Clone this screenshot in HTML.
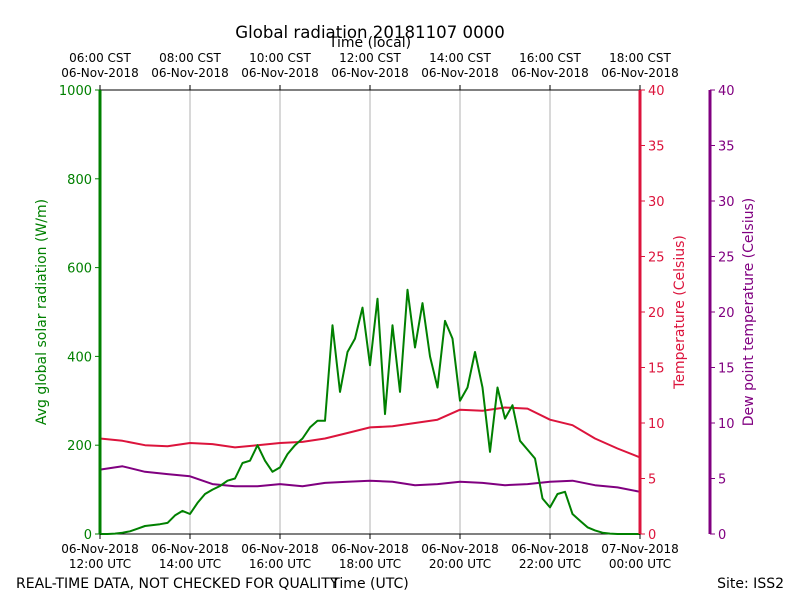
<!DOCTYPE html>
<html><head><meta charset="utf-8"><style>
body{margin:0;background:#fff;}
svg{font-family:"DejaVu Sans","Liberation Sans",sans-serif;}
</style></head><body>
<svg id="c" width="800" height="600"></svg>
<script>
const radiation=[0,0,1,3,6,12,18,20,22,25,42,52,45,70,90,100,108,120,125,160,165,200,165,140,150,180,200,215,240,255,255,470,320,410,440,510,380,530,270,470,320,550,420,520,400,330,480,440,300,330,410,330,185,330,260,290,210,190,170,80,60,90,95,45,30,15,8,3,1,0,0,0,0];
const temperature=[8.6,8.4,8.0,7.9,8.2,8.1,7.8,8.0,8.2,8.3,8.6,9.1,9.6,9.7,10.0,10.3,11.2,11.1,11.4,11.3,10.3,9.8,8.6,7.7,6.9];
const dewpoint=[5.8,6.1,5.6,5.4,5.2,4.5,4.3,4.3,4.5,4.3,4.6,4.7,4.8,4.7,4.4,4.5,4.7,4.6,4.4,4.5,4.7,4.8,4.4,4.2,3.8];
const radTicks=[0,200,400,600,800,1000];
const tempTicks=[0,5,10,15,20,25,30,35,40];
const utcLabels=[["06-Nov-2018","12:00 UTC"],["06-Nov-2018","14:00 UTC"],["06-Nov-2018","16:00 UTC"],["06-Nov-2018","18:00 UTC"],["06-Nov-2018","20:00 UTC"],["06-Nov-2018","22:00 UTC"],["07-Nov-2018","00:00 UTC"]];
const localLabels=[["06:00 CST","06-Nov-2018"],["08:00 CST","06-Nov-2018"],["10:00 CST","06-Nov-2018"],["12:00 CST","06-Nov-2018"],["14:00 CST","06-Nov-2018"],["16:00 CST","06-Nov-2018"],["18:00 CST","06-Nov-2018"]];

const L=100,R=640,T=90,B=534;
const xH=h=>L+(R-L)*h/12;
const yRad=v=>B-(B-T)*v/1000;
const yTemp=v=>B-(B-T)*v/40;
const svg=document.getElementById('c');
const NS='http://www.w3.org/2000/svg';
function el(tag,attrs,text){const e=document.createElementNS(NS,tag);for(const k in attrs)e.setAttribute(k,attrs[k]);if(text!==undefined)e.textContent=text;svg.appendChild(e);return e;}

for(let i=1;i<6;i++){const g=el('line',{x1:xH(i*2),x2:xH(i*2),y1:T,y2:B,stroke:'#b0b0b0','stroke-width':1});

}
let f=el('line',{x1:L,x2:R,y1:T,y2:T,stroke:'#000','stroke-width':1});

f=el('line',{x1:L,x2:R,y1:B,y2:B,stroke:'#000','stroke-width':1});


function line(arr,xf,yf,color,name){
  const p=arr.map((v,i)=>xf(i).toFixed(1)+','+yf(v).toFixed(1)).join(' ');
  const e=el('polyline',{points:p,fill:'none',stroke:color,'stroke-width':2,'stroke-linejoin':'round'});
  
  
}
line(temperature,i=>xH(i*12/(temperature.length-1)),yTemp,'#dc143c','temperature-line');
line(dewpoint,i=>xH(i*12/(dewpoint.length-1)),yTemp,'#800080','dewpoint-line');
line(radiation,i=>xH(i*12/(radiation.length-1)),yRad,'#008000','radiation-line');

f=el('line',{x1:L,x2:L,y1:T,y2:B,stroke:'#008000','stroke-width':3});

f=el('line',{x1:R,x2:R,y1:T,y2:B,stroke:'#dc143c','stroke-width':3});

f=el('line',{x1:710,x2:710,y1:T,y2:B,stroke:'#800080','stroke-width':3});


radTicks.forEach(v=>{el('line',{x1:L-5,x2:L,y1:yRad(v),y2:yRad(v),stroke:'#008000'});
 const t=el('text',{x:L-8,y:yRad(v)+5,'text-anchor':'end','font-size':13,fill:'#008000'},v);
 });
tempTicks.forEach(v=>{el('line',{x1:R,x2:R+5,y1:yTemp(v),y2:yTemp(v),stroke:'#dc143c'});
 let t=el('text',{x:R+8,y:yTemp(v)+5,'font-size':13,fill:'#dc143c'},v);
 
 el('line',{x1:710,x2:715,y1:yTemp(v),y2:yTemp(v),stroke:'#800080'});
 t=el('text',{x:718,y:yTemp(v)+5,'font-size':13,fill:'#800080'},v);
 });
utcLabels.forEach((l,i)=>{const x=xH(i*2);
 el('line',{x1:x,x2:x,y1:B,y2:B+5,stroke:'#000'});
 let t=el('text',{x:x,y:553,'text-anchor':'middle','font-size':12},l[0]);
 
 t=el('text',{x:x,y:568,'text-anchor':'middle','font-size':12},l[1]);
 });
localLabels.forEach((l,i)=>{const x=xH(i*2);
 el('line',{x1:x,x2:x,y1:T-5,y2:T,stroke:'#000'});
 let t=el('text',{x:x,y:62,'text-anchor':'middle','font-size':12},l[0]);
 
 t=el('text',{x:x,y:77,'text-anchor':'middle','font-size':12},l[1]);
 });
</script>
<svg style="position:absolute;left:0;top:0" width="800" height="600" font-family="DejaVu Sans, Liberation Sans, sans-serif">
<text x="370" y="38" text-anchor="middle" font-size="16.6">Global radiation 20181107 0000</text>
<text x="370" y="47" text-anchor="middle" font-size="14">Time (local)</text>
<text x="370" y="588" text-anchor="middle" font-size="14">Time (UTC)</text>
<text x="16" y="588" font-size="14">REAL-TIME DATA, NOT CHECKED FOR QUALITY</text>
<text x="784" y="588" text-anchor="end" font-size="14">Site: ISS2</text>
<text transform="translate(46,312) rotate(-90)" text-anchor="middle" font-size="14" fill="#008000">Avg global solar radiation (W/m)</text>
<text transform="translate(684,312) rotate(-90)" text-anchor="middle" font-size="14" fill="#dc143c">Temperature (Celsius)</text>
<text transform="translate(753,312) rotate(-90)" text-anchor="middle" font-size="14" fill="#800080">Dew point temperature (Celsius)</text>
</svg>
</body></html>
